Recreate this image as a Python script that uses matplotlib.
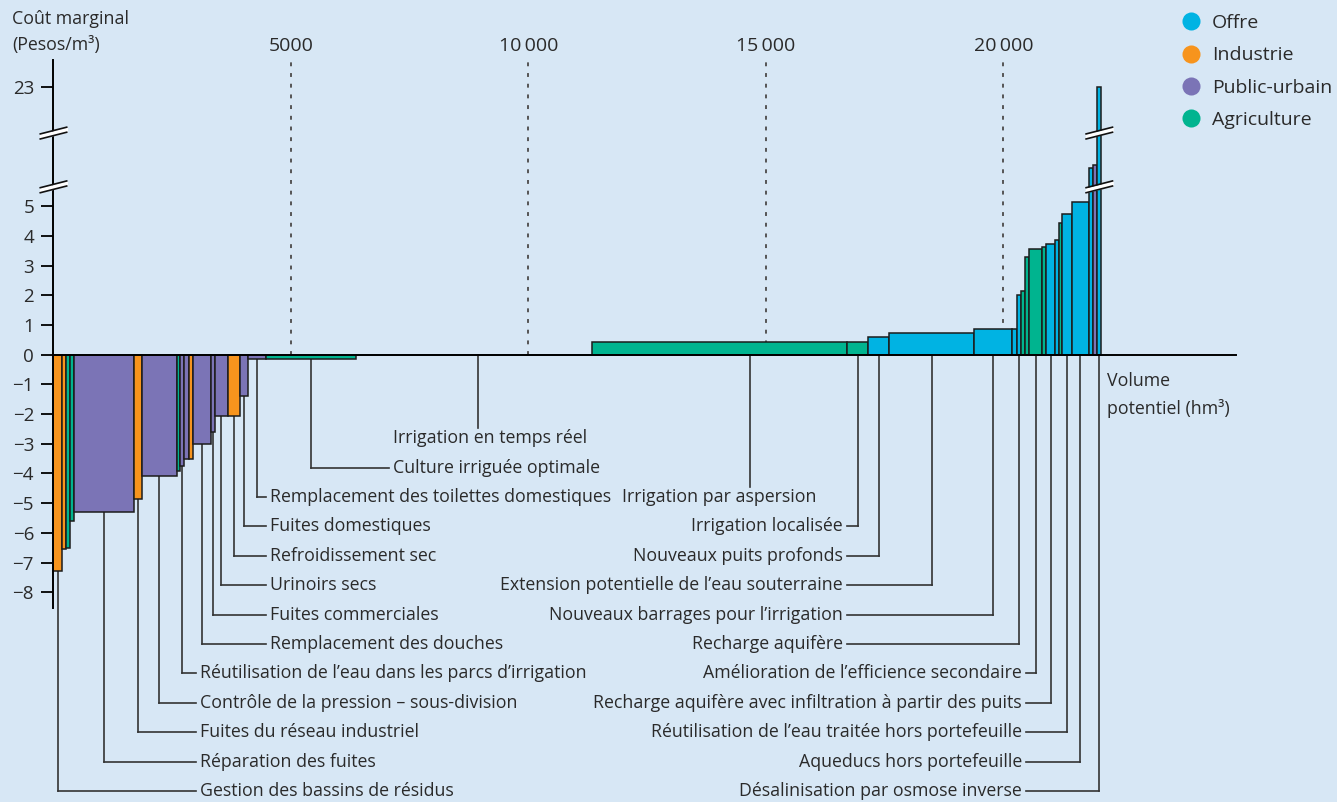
import numpy as np
import matplotlib
matplotlib.use("Agg")
import matplotlib.pyplot as plt
from matplotlib.lines import Line2D

# ---------------- data ----------------
sectors = ["Offre", "Industrie", "Public-urbain", "Agriculture"]
sector_colors = ["#00b3e3", "#f7941d", "#7b74b6", "#00b48f"]

# sector code: O=Offre, I=Industrie, P=Public-urbain, A=Agriculture
bar_sector = ["I", "I", "A", "A", "P", "I", "P", "A", "P", "P", "I", "P", "P", "P", "I", "P", "P", "A",
              "A", "A", "A", "O", "O", "O", "O", "O", "A", "A", "A", "A", "O", "O", "A", "O", "O", "O", "P", "O"]
bar_volume = [173, 97, 84, 84, 1263, 168, 724, 69, 95, 105, 84, 362, 84, 274, 265, 168, 366, 1895,
              4985, 5364, 442, 443, 1789, 804, 89, 90, 89, 86, 274, 84, 183, 84, 70, 198, 364, 95, 80, 88]
bar_cost = [-7.3, -6.55, -6.5, -5.6, -5.3, -4.85, -4.1, -3.9, -3.75, -3.5, -3.5, -3.0, -2.6, -2.05, -2.05, -1.4, -0.15, -0.15,
            0.0, 0.43, 0.43, 0.58, 0.72, 0.85, 0.85, 2.0, 2.14, 3.3, 3.56, 3.64, 3.72, 3.86, 4.43, 4.74, 5.14, 6.3, 6.4, 23.0]
bar_label = {
    0: "Gestion des bassins de résidus",
    4: "Réparation des fuites",
    5: "Fuites du réseau industriel",
    6: "Contrôle de la pression – sous-division",
    8: "Réutilisation de l’eau dans les parcs d’irrigation",
    11: "Remplacement des douches",
    12: "Fuites commerciales",
    13: "Urinoirs secs",
    14: "Refroidissement sec",
    15: "Fuites domestiques",
    16: "Remplacement des toilettes domestiques",
    17: "Culture irriguée optimale",
    18: "Irrigation en temps réel",
    19: "Irrigation par aspersion",
    20: "Irrigation localisée",
    21: "Nouveaux puits profonds",
    22: "Extension potentielle de l’eau souterraine",
    23: "Nouveaux barrages pour l’irrigation",
    25: "Recharge aquifère",
    28: "Amélioration de l’efficience secondaire",
    30: "Recharge aquifère avec infiltration à partir des puits",
    33: "Réutilisation de l’eau traitée hors portefeuille",
    34: "Aqueducs hors portefeuille",
    37: "Désalinisation par osmose inverse",
}
y_ticks = [-8, -7, -6, -5, -4, -3, -2, -1, 0, 1, 2, 3, 4, 5, 23]
x_ticks = [5000, 10000, 15000, 20000]
x_tick_labels = ["5000", "10\u2009000", "15\u2009000", "20\u2009000"]

# ---------------- layout (annotation placement only) ----------------
# label id -> (row, text x [hm3], ha, style, leader fraction along bar)
label_layout = {
    18: (0, 7147, "left", "below", 0.516),
    17: (1, 7147, "left", "elbow", 0.5),
    16: (2, 4558, "left", "elbow", 0.5),
    15: (3, 4558, "left", "elbow", 0.5),
    14: (4, 4558, "left", "elbow", 0.5),
    13: (5, 4558, "left", "elbow", 0.5),
    12: (6, 4558, "left", "elbow", 0.5),
    11: (7, 4558, "left", "elbow", 0.5),
    8: (8, 3084, "left", "elbow", 0.5),
    6: (9, 3084, "left", "elbow", 0.5),
    5: (10, 3084, "left", "elbow", 0.5),
    4: (11, 3084, "left", "elbow", 0.5),
    0: (12, 3084, "left", "elbow", 0.5),
    19: (2, 16053, "right", "below", 0.62),
    20: (3, 16621, "right", "elbow", 0.5),
    21: (4, 16621, "right", "elbow", 0.5),
    22: (5, 16621, "right", "elbow", 0.5),
    23: (6, 16621, "right", "elbow", 0.5),
    25: (7, 16621, "right", "elbow", 0.5),
    28: (8, 20389, "right", "elbow", 0.5),
    30: (9, 20389, "right", "elbow", 0.5),
    33: (10, 20389, "right", "elbow", 0.5),
    34: (11, 20389, "right", "elbow", 0.5),
    37: (12, 20389, "right", "elbow", 0.5),
}


def fwd(v):
    """broken y axis: linear up to 7, compressed above"""
    v = np.asarray(v, dtype=float)
    return np.where(v <= 7, v, 7 + (v - 7) * 0.125)


BG = "#d7e7f5"
FONT = ["Open Sans", "DejaVu Sans"]
plt.rcParams["font.family"] = FONT
TXT = "#2a2a2a"
FS = 12.8

fig = plt.figure(figsize=(13.37, 8.02), dpi=100, facecolor=BG)
ax = fig.add_axes([0, 0, 1, 1], facecolor=BG)
ax.set_xlim(-1126, 27021)
ax.set_ylim(-15.06, 11.94)

cmap = dict(zip(["O", "I", "P", "A"], sector_colors))
widths = np.array(bar_volume, dtype=float)
lefts = np.concatenate([[0], np.cumsum(widths)[:-1]])
costs = np.array(bar_cost)
heights = fwd(costs)
ax.bar(lefts, heights, width=widths, align="edge",
       color=[cmap[s] for s in bar_sector], edgecolor="#1c1c1c", linewidth=1.1, zorder=3)

# dotted guide lines + top tick labels
ax.vlines(x_ticks, 0, 9.86, colors="#555555", linestyles=(0, (2, 3.5)), linewidth=1.4, zorder=1)
ax.xaxis.set_ticks_position("top")
ax.set_xticks(x_ticks)
ax.set_xticklabels(x_tick_labels)
ax.spines["top"].set_position(("data", 9.95))
ax.spines["top"].set_visible(False)
ax.tick_params(axis="x", length=0, pad=3, labelsize=14, labelcolor=TXT)

# y axis
ax.spines["right"].set_visible(False)
ax.spines["left"].set_position(("data", 0))
ax.spines["left"].set_bounds(-8.53, 9.93)
ax.spines["left"].set_linewidth(1.4)
ax.spines["left"].set_zorder(4)
ax.spines["bottom"].set_position(("data", 0))
ax.spines["bottom"].set_bounds(0, 24895)
ax.spines["bottom"].set_linewidth(1.4)
ax.spines["bottom"].set_zorder(4)
ax.set_yticks(fwd(y_ticks))
ax.set_yticklabels([str(t).replace("-", "\u2212") for t in y_ticks])
ax.tick_params(axis="y", direction="out", length=9, width=1.3, pad=5, labelsize=13.5, labelcolor=TXT)


# axis breaks
def draw_break(xc, yc):
    dx = 295
    dy = 0.12
    gap = 0.085
    xs = np.array([xc - dx, xc + dx])
    ys = np.array([yc - dy, yc + dy])
    ax.fill_between(xs, ys - gap, ys + gap, color="white", zorder=6, linewidth=0)
    ax.plot(xs, ys - gap, color="#111111", lw=1.2, zorder=7, solid_capstyle="butt")
    ax.plot(xs, ys + gap, color="#111111", lw=1.2, zorder=7, solid_capstyle="butt")


last_center = lefts[-1] + widths[-1] / 2
for yb in (5.65, 7.46):
    draw_break(0, yb)
    draw_break(last_center, yb)

# leader lines and labels
LC = "#333333"
gap_x = 90
for idx, text in bar_label.items():
    row, tx, ha, style, frac = label_layout[idx]
    lx = lefts[idx] + widths[idx] * frac
    y0 = min(heights[idx], 0)
    ry = -2.81 - row * 0.99
    if style == "below":
        ax.plot([lx, lx], [y0, ry + 0.35], color=LC, lw=1.2, zorder=2)
    else:
        ax.plot([lx, lx], [y0, ry], color=LC, lw=1.2, zorder=2)
        if ha == "left":
            ax.plot([lx, tx - gap_x], [ry, ry], color=LC, lw=1.2, zorder=2)
        else:
            ax.plot([lx, tx + gap_x], [ry, ry], color=LC, lw=1.2, zorder=2)
    ax.text(tx, ry, text, ha=ha, va="center", fontsize=FS, color=TXT, zorder=5)

# axis titles
ax.text(-874, 11.62, "Coût marginal\n(Pesos/m³)", ha="left", va="top", fontsize=FS, color=TXT, linespacing=1.58)
ax.text(22179, -0.6, "Volume\npotentiel (hm³)", ha="left", va="top", fontsize=FS, color=TXT, linespacing=1.58)

# legend
handles = [Line2D([], [], marker="o", ls="", ms=13, color=c, markeredgewidth=0) for c in sector_colors]
leg = fig.legend(handles, sectors, loc="upper left", bbox_to_anchor=(1181 / 1337, 1 - 14 / 802),
                 frameon=False, fontsize=14, handlelength=1.0, handletextpad=0.6,
                 labelspacing=0.74, borderaxespad=0, borderpad=0)
for t in leg.get_texts():
    t.set_color(TXT)

fig.savefig("out.png", dpi=100, facecolor=BG)
